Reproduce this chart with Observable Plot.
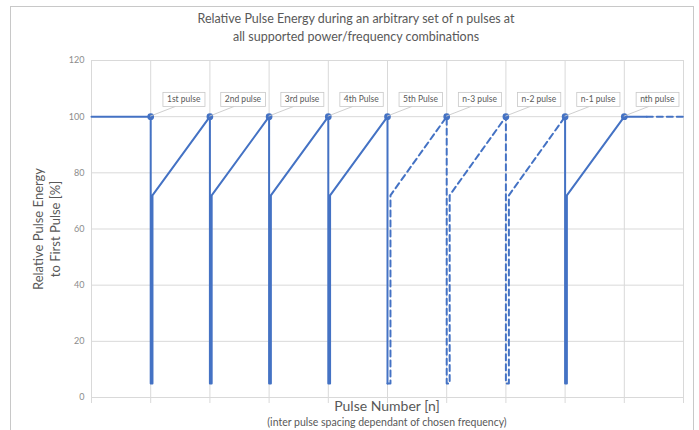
<!DOCTYPE html>
<html><head><meta charset="utf-8">
<script src="https://cdn.jsdelivr.net/npm/d3@7"></script>
<script src="https://cdn.jsdelivr.net/npm/@observablehq/plot@0.6"></script>
<style>
body{margin:0;background:#fff;font-family:Lato,sans-serif;}
#wrap{position:relative;width:699px;height:430px;overflow:hidden;}
#frame{position:absolute;left:10px;top:6px;width:684px;height:450px;border:1px solid #c8c8c8;box-sizing:border-box;}
#chart{position:absolute;left:0;top:0;}
.t{position:absolute;text-align:center;color:#595959;white-space:nowrap;}
#title{left:14px;width:684px;top:10px;font-size:12.5px;line-height:18px;}
#ylab{left:47px;top:229px;width:220px;font-size:13px;line-height:17px;transform:translate(-50%,-50%) rotate(-90deg);}
#xlab{left:287px;width:200px;top:397px;font-size:14px;line-height:18px;}
#xsub{left:187px;width:400px;top:415px;font-size:10.5px;line-height:14px;}
</style></head>
<body>
<div id="wrap">
  <div id="frame"></div>
  <div id="chart"></div>
  <div class="t" id="title">Relative Pulse Energy during an arbitrary set of n pulses at<br>all supported power/frequency combinations</div>
  <div class="t" id="ylab">Relative Pulse Energy<br>to First Pulse [%]</div>
  <div class="t" id="xlab">Pulse Number [n]</div>
  <div class="t" id="xsub">(inter pulse spacing dependant of chosen frequency)</div>
</div>
<script>
// ---- data ----
const xTicks = [0,1,2,3,4,5,6,7,8,9,10];
const yTicks = [0,20,40,60,80,100,120];
const pulseX = [1,2,3,4,5,6,7,8,9];
const pulseY = [100,100,100,100,100,100,100,100,100];
const pulseLabels = ["1st pulse","2nd pulse","3rd pulse","4th Pulse","5th Pulse","n-3 pulse","n-2 pulse","n-1 pulse","nth pulse"];
// solid part 1 (start to 5th pulse)
const solid1X = [0,1,1,1.03,1.03,2,2,2.03,2.03,3,3,3.03,3.03,4,4,4.03,4.03,5,5];
const solid1Y = [100,100,5,5,72,100,5,5,72,100,5,5,72,100,5,5,72,100,5];
// dashed part (between 5th and n-1 pulse)
const dashedX = [5,5.05,5.05,6,6,6.05,6.05,7,7,7.05,7.05,8];
const dashedY = [5,5,72,100,5,5,72,100,5,5,72,100];
// solid part 2 (n-1 to after nth)
const solid2X = [8,8,8.03,8.03,9,9.38];
const solid2Y = [100,5,5,72,100,100];
// dashed tail
const tailX = [9.38,10];
const tailY = [100,100];

const rows = (xs, ys) => xs.map((x, i) => ({x, y: ys[i]}));
const pulses = pulseX.map((x, i) => ({x, y: pulseY[i], label: pulseLabels[i]}));

const blue = "#4472C4";
const chart = Plot.plot({
  width: 699, height: 430,
  marginLeft: 91, marginRight: 16, marginTop: 60, marginBottom: 33,
  style: {fontFamily: "Lato, sans-serif", background: "transparent"},
  x: {domain: [0, 10]},
  y: {domain: [0, 120]},
  marks: [
    Plot.gridX(xTicks, {stroke: "#d9d9d9", strokeOpacity: 1}),
    Plot.gridY(yTicks, {stroke: "#d9d9d9", strokeOpacity: 1}),
    Plot.axisX(xTicks, {tickFormat: () => "", tickSize: 6, stroke: "#d9d9d9", label: null}),
    Plot.axisY(yTicks, {tickSize: 0, tickPadding: 7, fontSize: 9, fill: "#8c8c8c", label: null}),
    Plot.line(rows(solid1X, solid1Y), {x: "x", y: "y", stroke: blue, strokeWidth: 2}),
    Plot.line(rows(dashedX, dashedY), {x: "x", y: "y", stroke: blue, strokeWidth: 2, strokeDasharray: "6,4"}),
    Plot.line(rows(solid2X, solid2Y), {x: "x", y: "y", stroke: blue, strokeWidth: 2}),
    Plot.line(rows(tailX, tailY), {x: "x", y: "y", stroke: blue, strokeWidth: 2, strokeDasharray: "6,4"}),
    Plot.dot(pulses, {x: "x", y: "y", r: 2.6, fill: blue, stroke: blue}),
    Plot.text(pulses, {x: "x", y: "y", text: "label", dx: 33, dy: -17, fontSize: 8.5, fill: "#595959", className: "callouts"})
  ]
});
document.getElementById("chart").appendChild(chart);

// callout boxes and leader lines (drawn in root SVG coordinates)
const xs = chart.scale("x"), ys = chart.scale("y");
const ns = "http://www.w3.org/2000/svg";
const texts = chart.querySelectorAll("g.callouts text");
const textGroup = chart.querySelector("g.callouts");
const boxes = document.createElementNS(ns, "g");
textGroup.parentNode.insertBefore(boxes, textGroup);
texts.forEach((t, i) => {
  const b = t.getBBox();
  const M = t.getCTM();
  const padX = 4, padY = 2;
  const bx = b.x + M.e - padX, by = b.y + M.f - padY, bw = b.width + 2 * padX, bh = b.height + 2 * padY;
  const px = xs.apply(pulses[i].x), py = ys.apply(pulses[i].y);
  const line = document.createElementNS(ns, "line");
  line.setAttribute("x1", px); line.setAttribute("y1", py);
  line.setAttribute("x2", bx + bw * 0.3); line.setAttribute("y2", by + bh);
  line.setAttribute("stroke", "#c8c8c8"); line.setAttribute("stroke-width", 0.9);
  boxes.appendChild(line);
  const rect = document.createElementNS(ns, "rect");
  rect.setAttribute("x", bx); rect.setAttribute("y", by);
  rect.setAttribute("width", bw); rect.setAttribute("height", bh);
  rect.setAttribute("fill", "#fff"); rect.setAttribute("stroke", "#c8c8c8"); rect.setAttribute("stroke-width", 0.8);
  boxes.appendChild(rect);
});
</script>
</body></html>
